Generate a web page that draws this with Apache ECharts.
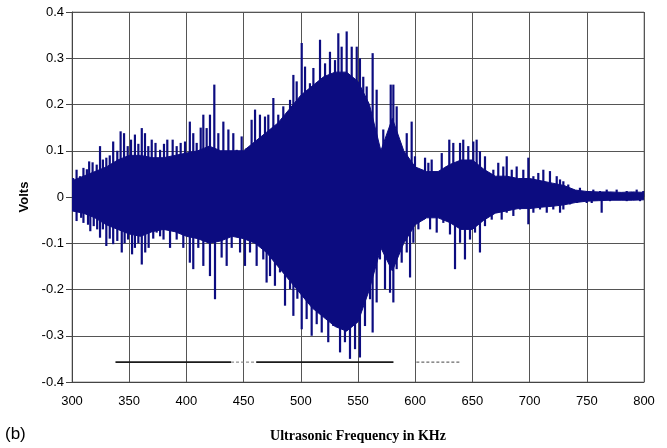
<!DOCTYPE html>
<html>
<head>
<meta charset="utf-8">
<script src="https://cdn.jsdelivr.net/npm/echarts@6/dist/echarts.min.js"></script>
<style>
  html, body { margin: 0; padding: 0; background: #fff; }
  #chart { width: 667px; height: 448px; }
</style>
</head>
<body>
<div id="chart"></div>
<script>
// solid core of the signal, read every 10 KHz
var coreFreq = [300,310,320,330,340,350,360,370,380,390,400,410,420,430,440,450,460,470,480,490,500,
  510,520,530,540,550,560,570,580,590,600,610,620,630,640,650,660,670,680,690,700,
  710,720,730,740,750,760,770,780,790,800];
var coreUpper = [0.035,0.045,0.055,0.065,0.08,0.09,0.09,0.085,0.085,0.09,0.095,0.1,0.11,0.1,0.1,0.1,0.12,0.14,0.16,0.19,0.22,
  0.24,0.26,0.27,0.27,0.25,0.2,0.1,0.17,0.1,0.065,0.055,0.055,0.07,0.08,0.08,0.06,0.045,0.045,0.04,0.04,
  0.035,0.03,0.025,0.015,0.012,0.011,0.011,0.01,0.011,0.01];
var coreLower = [-0.03,-0.035,-0.045,-0.06,-0.07,-0.08,-0.085,-0.075,-0.07,-0.075,-0.085,-0.09,-0.1,-0.095,-0.085,-0.09,-0.1,-0.12,-0.15,-0.18,-0.21,
  -0.24,-0.26,-0.28,-0.29,-0.27,-0.2,-0.11,-0.16,-0.1,-0.06,-0.045,-0.045,-0.055,-0.07,-0.07,-0.05,-0.035,-0.03,-0.025,-0.025,
  -0.022,-0.02,-0.017,-0.012,-0.009,-0.008,-0.007,-0.007,-0.007,-0.006];

// spike tips [KHz, volts]
var upperPeaks = [
  [301,0.041],[304,0.059],[307,0.045],[310,0.063],[313,0.06],[315,0.077],[318,0.075],[321.6,0.07],[324.5,0.11],[327,0.081],
  [330,0.085],[333,0.09],[336,0.12],[339.6,0.1],[342.5,0.142],[345.5,0.138],[348.7,0.11],[351.6,0.124],[355,0.135],[358,0.115],
  [361,0.149],[363.8,0.138],[366.7,0.11],[369.7,0.124],[373,0.117],[377,0.102],[380.4,0.115],[383.3,0.124],[388,0.124],[391.5,0.11],
  [395,0.117],[398.8,0.12],[403,0.163],[406,0.138],[409,0.117],[412.5,0.15],[414.8,0.178],[417.7,0.149],[420.6,0.178],[424.4,0.243],
  [427.9,0.138],[432.3,0.163],[436.7,0.146],[441,0.138],[444,0.102],[448.3,0.131],[452.7,0.106],[457,0.167],[460,0.189],[464.3,0.178],
  [468.7,0.174],[471.6,0.178],[476,0.214],[480.3,0.178],[484.7,0.196],[487.7,0.174],[490.6,0.21],[493.5,0.264],[496.4,0.25],[500.8,0.333],
  [503.7,0.282],[508,0.246],[511,0.279],[516.8,0.34],[521.2,0.289],[525.5,0.314],[529.9,0.296],[532.8,0.354],[535.7,0.325],[540.1,0.358],
  [544.5,0.325],[548.9,0.325],[551.7,0.3],[554.6,0.26],[557.6,0.239],[562.8,0.311],[566.3,0.232],[569.2,0.102],[572.1,0.146],[575.1,0.124],
  [578.6,0.243],[580.9,0.243],[583.8,0.196],[586.7,0.117],[589.6,0.081],[592.6,0.138],[596.9,0.163],[599.8,0.088],[604.2,0.049],[608.6,0.085],
  [611.5,0.074],[614.4,0.081],[618.8,0.034],[623.2,0.095],[627.5,0.066],[629.8,0.124],[633.3,0.117],[639.2,0.117],[642,0.124],[646.4,0.11],
  [650.8,0.12],[653.7,0.124],[656.6,0.099],[661,0.088],[665.4,0.052],[668.3,0.059],[672.6,0.074],[677,0.066],[680,0.088],[684.4,0.059],
  [688.7,0.066],[694.5,0.059],[698.9,0.085],[703.3,0.045],[707.6,0.052],[712,0.059],[717.8,0.056],[723.7,0.045],[726.6,0.038],[729.5,0.034],
  [733.8,0.027],[738.2,0.016],[744,0.02],[749.9,0.013],[755.7,0.016],[761.5,0.013],[767.4,0.016],[776.1,0.016],[784.9,0.013],[793.6,0.016],
  [799.4,0.013]
];
var lowerPeaks = [
  [301,-0.027],[304,-0.052],[308,-0.045],[310,-0.056],[314,-0.06],[316,-0.074],[319,-0.063],[322,-0.07],[324.5,-0.088],[327,-0.07],
  [330,-0.106],[333,-0.09],[336,-0.102],[339.6,-0.095],[343.5,-0.12],[346,-0.1],[349,-0.092],[352.5,-0.124],[355,-0.11],[358,-0.1],
  [361,-0.146],[364,-0.12],[367,-0.11],[371,-0.09],[374,-0.077],[377,-0.085],[380,-0.092],[385.7,-0.11],[391.5,-0.092],[397.3,-0.11],
  [403,-0.142],[406,-0.156],[410.4,-0.11],[414.8,-0.149],[420.6,-0.171],[425,-0.221],[430.8,-0.131],[435.2,-0.149],[439.6,-0.11],[444,-0.077],
  [446.9,-0.12],[451.2,-0.149],[455.6,-0.12],[461.4,-0.149],[467.2,-0.135],[470.1,-0.185],[473.1,-0.171],[477.4,-0.192],[481.8,-0.163],[486.2,-0.235],
  [490.6,-0.199],[493.5,-0.257],[497,-0.22],[500.8,-0.286],[505.1,-0.264],[509.5,-0.3],[513.9,-0.275],[518.3,-0.293],[524,-0.314],[528.4,-0.279],
  [534.3,-0.336],[538.6,-0.314],[543,-0.35],[547.4,-0.329],[551.7,-0.347],[556.1,-0.279],[559,-0.192],[560.5,-0.221],[562.8,-0.293],[566.3,-0.228],
  [569.2,-0.135],[573.6,-0.199],[578,-0.207],[580.9,-0.228],[583.8,-0.156],[588.2,-0.142],[592.6,-0.12],[595.5,-0.174],[598.4,-0.099],[602.8,-0.07],
  [607.2,-0.049],[613,-0.07],[618.8,-0.077],[624.6,-0.056],[630.4,-0.081],[634.8,-0.156],[639.2,-0.099],[643.5,-0.135],[647.9,-0.092],[652.3,-0.077],
  [656.6,-0.12],[661,-0.063],[666.9,-0.049],[671.2,-0.034],[675.6,-0.049],[680,-0.034],[685.8,-0.041],[691.6,-0.027],[698.9,-0.059],[703.3,-0.034],
  [709.1,-0.027],[715,-0.034],[720.7,-0.027],[726.6,-0.034],[729.5,-0.027],[735.3,-0.016],[741.2,-0.013],[749.9,-0.013],[754.3,-0.013],[763,-0.034],
  [770.3,-0.009],[784.9,-0.009],[796.5,-0.009]
];

// horizontal markers under the signal
var markerLevel = -0.357;
var solidSegments = [[338, 439], [461, 581]];
var faintSegments = [[439, 461]];
var dashedSegments = [[601, 640]];

var navy = '#0c0c80';

function segSeries(segs, style) {
  return segs.map(function (s) {
    return {
      type: 'line', silent: true, symbol: 'none', z: 5,
      data: [[s[0], markerLevel], [s[1], markerLevel]],
      lineStyle: style
    };
  });
}

var chart = echarts.init(document.getElementById('chart'));

var series = [
  {
    type: 'line', symbol: 'none', silent: true,
    data: coreFreq.map(function (f, i) { return [f, coreUpper[i]]; }),
    lineStyle: { color: navy, width: 1 },
    areaStyle: { color: navy, opacity: 1 }
  },
  {
    type: 'line', symbol: 'none', silent: true,
    data: coreFreq.map(function (f, i) { return [f, coreLower[i]]; }),
    lineStyle: { color: navy, width: 1 },
    areaStyle: { color: navy, opacity: 1 }
  },
  {
    type: 'bar', silent: true, barWidth: 2.2, barGap: '-100%',
    data: upperPeaks,
    itemStyle: { color: navy }
  },
  {
    type: 'bar', silent: true, barWidth: 2.2, barGap: '-100%',
    data: lowerPeaks,
    itemStyle: { color: navy }
  }
];
series = series
  .concat(segSeries(solidSegments, { color: '#1a1a1a', width: 1.6 }))
  .concat(segSeries(faintSegments, { color: '#777', width: 1, type: [3, 2] }))
  .concat(segSeries(dashedSegments, { color: '#444', width: 1, type: [3, 2] }));

chart.setOption({
  animation: false,
  backgroundColor: '#fff',
  grid: { left: 72, right: 23, top: 12, bottom: 65, show: true, borderColor: '#999', borderWidth: 1 },
  xAxis: {
    type: 'value', min: 300, max: 800, interval: 50,
    name: 'Ultrasonic Frequency in KHz', nameLocation: 'middle', nameGap: 47,
    nameTextStyle: { fontFamily: 'Liberation Serif', fontWeight: 'bold', fontSize: 14, color: '#000' },
    axisLine: { onZero: false, lineStyle: { color: '#444' } },
    axisTick: { show: false },
    axisLabel: { fontFamily: 'Liberation Sans', fontSize: 13, color: '#000', margin: 13 },
    splitLine: { show: true, lineStyle: { color: '#555', width: 1 } }
  },
  yAxis: {
    type: 'value', min: -0.4, max: 0.4, interval: 0.1,
    name: 'Volts', nameLocation: 'middle', nameGap: 30, nameRotate: 90,
    nameTextStyle: { fontFamily: 'Liberation Sans', fontWeight: 'bold', fontSize: 13, color: '#000' },
    axisLine: { show: true, lineStyle: { color: '#444' } },
    axisTick: { show: true, length: 6, lineStyle: { color: '#444' } },
    axisLabel: { fontFamily: 'Liberation Sans', fontSize: 13, color: '#000', margin: 8 },
    splitLine: { show: true, lineStyle: { color: '#555', width: 1 } }
  },
  graphic: [{
    type: 'text', left: 5, top: 426,
    style: { text: '(b)', font: '17px "Liberation Sans"', fill: '#000' }
  }],
  series: series
});
</script>
</body>
</html>
